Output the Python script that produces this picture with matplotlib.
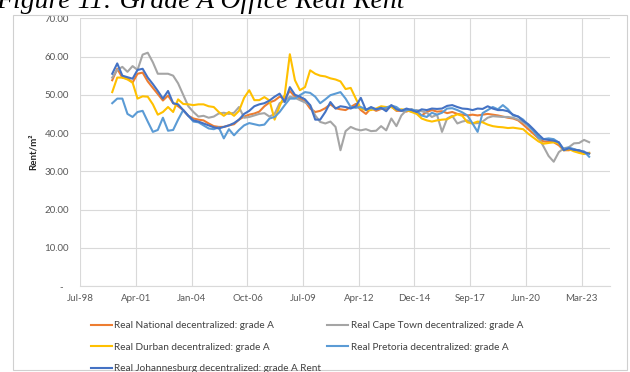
import pandas as pd
import matplotlib
matplotlib.use("Agg")
import matplotlib.pyplot as plt
from matplotlib.patches import Rectangle

# quarterly real rents, 2000Q1 - 2023Q3
quarters = pd.date_range("2000-02-01", periods=95, freq="3MS")

national = [53.8, 56.8, 54.5, 54.3, 53.2, 55.5, 55.8, 53.5, 51.8, 50.2,
            48.5, 49.8, 47.8, 47.0, 46.0, 44.5, 43.8, 43.5, 43.3, 42.5,
            41.8, 41.6, 41.6, 42.0, 42.3, 43.5, 44.3, 44.8, 45.1, 45.6,
            47.0, 48.0, 48.5, 49.5, 49.0, 51.0, 49.5, 49.0, 48.3, 46.4,
            45.5, 45.8, 46.5, 47.5, 46.5, 46.2, 46.0, 46.8, 47.6, 46.0,
            45.0, 46.5, 45.8, 46.3, 46.3, 47.0, 45.8, 45.8, 45.6, 46.2,
            45.2, 44.6, 45.5, 46.0, 45.6, 45.7, 45.2, 45.5, 45.0, 44.8,
            44.6, 44.8, 44.6, 44.8, 45.0, 44.8, 44.6, 44.3, 44.0, 43.8,
            43.3, 42.2, 41.0, 39.8, 38.6, 37.8, 37.7, 37.6, 36.8, 35.5,
            35.5, 35.8, 35.0, 34.8, 34.8]

cape_town = [54.5, 56.5, 57.3, 56.0, 57.5, 56.5, 60.5, 61.0, 58.5, 55.5,
             55.5, 55.5, 55.0, 53.0, 50.0, 47.0, 45.5, 44.3, 44.5, 44.0,
             44.3, 45.1, 45.3, 45.0, 45.3, 46.8, 44.0, 44.2, 44.6, 45.0,
             45.2, 44.3, 45.0, 47.8, 48.4, 49.5, 49.2, 48.6, 48.0, 47.3,
             44.6, 42.9, 42.5, 43.0, 41.6, 35.5, 40.5, 41.6, 41.0, 40.7,
             41.0, 40.5, 40.6, 41.8, 40.7, 43.8, 41.8, 44.6, 46.0, 45.6,
             46.0, 45.7, 45.3, 44.2, 44.8, 40.3, 43.8, 44.5, 42.5, 43.0,
             43.3, 42.5, 42.6, 43.0, 44.0, 44.4, 44.3, 44.2, 44.2, 44.0,
             43.5, 42.8, 41.8, 40.5, 38.8, 36.5, 34.0, 32.5, 35.0, 36.0,
             36.3, 37.3, 37.4, 38.2, 37.6]

durban = [50.7, 54.5, 54.5, 54.0, 53.2, 49.0, 49.6, 49.5, 47.5, 44.8,
          45.5, 46.8, 45.5, 48.8, 47.6, 47.5, 47.3, 47.5, 47.5, 47.0,
          46.8, 45.5, 44.5, 45.5, 44.5, 45.8, 49.2, 51.2, 48.6, 48.6,
          49.4, 48.5, 43.5, 47.0, 50.0, 60.6, 53.8, 51.2, 52.0, 56.4,
          55.5, 55.0, 54.8, 54.3, 54.0, 53.5, 51.5, 51.8, 49.0, 46.4,
          46.0, 46.0, 46.4, 47.0, 46.8, 46.8, 46.0, 46.2, 46.0, 45.5,
          45.0, 43.8, 43.3, 43.0, 43.3, 43.5, 43.6, 44.3, 44.9, 44.5,
          42.8, 42.5, 43.0, 42.8, 42.2, 41.8, 41.6, 41.5, 41.3, 41.4,
          41.2, 41.0, 39.8, 38.8, 37.8, 37.2, 37.4, 37.6, 37.3, 35.5,
          35.8, 35.2, 34.8, 34.5, 34.8]

pretoria = [47.8, 49.0, 49.0, 45.0, 44.2, 45.5, 45.8, 43.0, 40.3, 40.8,
            44.0, 40.6, 40.8, 43.5, 46.0, 44.5, 43.0, 42.8, 42.0, 41.2,
            41.0, 41.5, 38.6, 41.0, 39.4, 40.8, 42.0, 42.6, 42.3, 42.0,
            42.2, 43.8, 44.2, 45.5, 47.3, 49.0, 49.0, 49.9, 50.7, 50.5,
            49.5, 47.8, 48.8, 49.9, 50.3, 50.7, 49.0, 46.8, 46.6, 46.8,
            46.2, 46.5, 46.2, 46.4, 46.6, 47.2, 46.8, 45.8, 46.0, 46.2,
            45.8, 44.6, 44.2, 45.3, 44.8, 45.3, 46.4, 46.5, 46.0, 45.4,
            44.6, 42.5, 40.3, 45.2, 46.0, 46.8, 46.2, 47.3, 46.2, 44.6,
            44.3, 43.5, 42.0, 40.6, 38.8, 38.4, 38.6, 38.4, 37.5, 35.8,
            36.2, 35.8, 35.4, 35.2, 33.8]

johannesburg = [55.5, 58.2, 55.0, 54.6, 54.2, 56.5, 56.8, 54.5, 52.8, 51.0,
                49.0, 51.0, 47.8, 47.5, 46.0, 44.5, 43.3, 43.0, 42.5, 42.0,
                41.5, 41.2, 41.6, 42.0, 42.6, 43.5, 45.0, 45.8, 47.0, 47.5,
                47.8, 48.5, 49.5, 50.3, 48.1, 52.0, 50.0, 49.5, 48.8, 47.3,
                43.5, 43.5, 45.5, 48.1, 46.4, 47.0, 46.8, 46.4, 47.0, 49.2,
                46.0, 46.8, 46.2, 46.6, 45.7, 47.3, 46.2, 45.8, 46.4, 46.0,
                45.5, 46.2, 46.0, 46.4, 46.3, 46.4, 47.1, 47.3, 46.8, 46.4,
                46.3, 46.0, 46.4, 46.3, 47.0, 46.4, 46.0, 46.0, 45.7, 44.8,
                44.3, 43.2, 42.3, 41.0, 39.6, 38.4, 38.2, 38.0, 37.6, 35.5,
                36.0, 35.6, 35.5, 35.0, 34.6]

tick_dates = pd.to_datetime(["1998-07-01", "2001-04-01", "2004-01-01", "2006-10-01",
                             "2009-07-01", "2012-04-01", "2014-12-20", "2017-09-20",
                             "2020-06-20", "2023-03-20"])
tick_labels = ["Jul-98", "Apr-01", "Jan-04", "Oct-06", "Jul-09",
               "Apr-12", "Dec-14", "Sep-17", "Jun-20", "Mar-23"]
y_ticks = [0, 10, 20, 30, 40, 50, 60, 70]

series = [
    ("Real National decentralized: grade A", national, "#ED7D31"),
    ("Real Cape Town decentralized: grade A", cape_town, "#A5A5A5"),
    ("Real Durban decentralized: grade A", durban, "#FFC000"),
    ("Real Pretoria decentralized: grade A", pretoria, "#5B9BD5"),
    ("Real Johannesburg decentralized: grade A Rent", johannesburg, "#4472C4"),
]

plt.rcParams["font.family"] = ["Lato", "DejaVu Sans"]

fig = plt.figure(figsize=(6.3, 3.72), dpi=100)

# chart frame
fig.patches.append(Rectangle((13 / 630, 2 / 372), 614 / 630, 355 / 372,
                             transform=fig.transFigure, fill=False,
                             edgecolor="#D0D0D0", linewidth=0.8))

fig.text(-0.006, 0.978, "Figure 11: Grade A Office Real Rent",
         family="Liberation Serif", style="italic", fontsize=20,
         ha="left", va="baseline", color="black")

ax = fig.add_axes([80 / 630, 86 / 372, 530 / 630, 267.7 / 372])

lines = {}
for i, (name, vals, col) in enumerate(series):
    ln, = ax.plot(quarters, vals, color=col, lw=1.5, label=name, zorder=3 + i)
    lines[name] = ln

ax.set_ylim(0, 70)
ax.set_yticks(y_ticks)
ax.set_yticklabels(["-  "] + ["%.2f" % v for v in y_ticks[1:]])
ax.set_xlim(pd.Timestamp("1998-07-01"), pd.Timestamp("2024-08-10"))
ax.set_xticks(tick_dates)
ax.set_xticklabels(tick_labels)

ax.grid(True, color="#D9D9D9", lw=0.8, zorder=0)
for s in ["top", "right", "left"]:
    ax.spines[s].set_visible(False)
ax.spines["bottom"].set_color("#D9D9D9")
ax.tick_params(length=0, labelsize=7, labelcolor="#595959")
ax.tick_params(axis="y", pad=8)
ax.tick_params(axis="x", pad=6)

ax.set_ylabel("Rent/m²", fontsize=7, fontweight="bold", color="#262626", labelpad=5)

# legend: column-major order puts National/Durban/Jhb left, Cape Town/Pretoria right
order = [0, 2, 4, 1, 3]
handles = [lines[series[k][0]] for k in order]
labels = [series[k][0] for k in order]
leg = fig.legend(handles, labels, loc="upper left", bbox_to_anchor=(0.1444, 0.137),
                 ncol=2, frameon=False, fontsize=7.2, handlelength=2.1,
                 handletextpad=0.25, columnspacing=0.6, labelspacing=1.25,
                 borderpad=0, borderaxespad=0)
for t in leg.get_texts():
    t.set_color("#404040")

fig.savefig("out.png", dpi=100)
